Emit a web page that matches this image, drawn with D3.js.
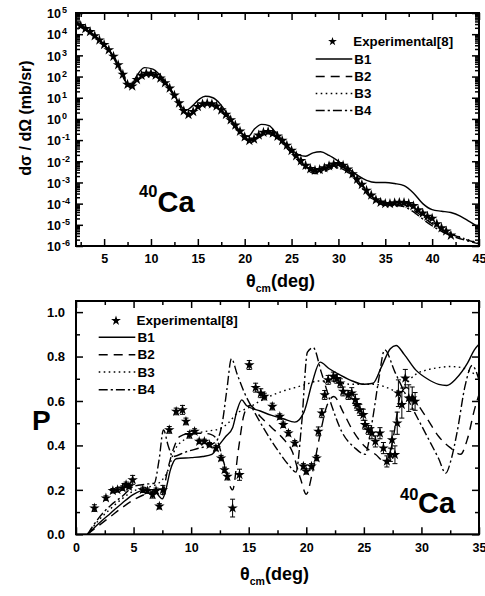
<!DOCTYPE html>
<html>
<head>
<meta charset="utf-8">
<script src="https://cdn.jsdelivr.net/npm/d3@7/dist/d3.min.js"></script>
<style>
html,body{margin:0;padding:0;background:#fff;}
svg{display:block;}
text{font-family:"Liberation Sans",Arial,Helvetica,sans-serif;font-weight:bold;fill:#000;}
</style>
</head>
<body>
<svg id="chart" width="485" height="596" xmlns="http://www.w3.org/2000/svg"></svg>
<script>
// ---------------- TOP PANEL DATA: dσ/dΩ (mb/sr) vs θcm (deg) ----------------
const thetaExpTop = [2.5,3.0,3.5,4.0,4.5,5.0,5.5,6.0,6.5,7.0,7.5,8.0,8.5,9.0,9.5,10.0,10.5,11.0,11.5,12.0,12.5,13.0,13.5,14.0,14.5,15.0,15.5,16.0,16.5,17.0,17.5,18.0,18.5,19.0,19.5,20.0,20.5,21.0,21.5,22.0,22.5,23.0,23.5,24.0,24.5,25.0,25.5,26.0,26.5,27.0,27.5,28.0,28.5,29.0,29.5,30.0,30.5,31.0,31.5,32.0,32.5,33.0,33.5,34.0,34.5,35.0,35.5,36.0,36.5,37.0,37.5,38.0,38.5,39.0,39.5,40.0,40.5,41.0,41.5,42.0];
const sigmaExpTop = [2.5e4,1.8e4,1.3e4,8.3e3,5.2e3,3.2e3,1.8e3,890,355,126,42,35,71,112,138,138,115,83,50,28,13,5.6,2.4,1.6,2.2,3.8,5.0,5.4,5.0,4.0,2.6,1.6,0.89,0.5,0.26,0.14,0.095,0.11,0.17,0.23,0.25,0.21,0.15,0.095,0.056,0.032,0.018,0.0105,0.0063,0.0044,0.0037,0.004,0.0048,0.006,0.0072,0.0076,0.0063,0.0042,0.0025,0.0014,7.9e-4,4.2e-4,2.5e-4,1.5e-4,1.15e-4,1.0e-4,1.0e-4,1.07e-4,1.12e-4,1.1e-4,1.0e-4,7.9e-5,5.0e-5,3.5e-5,2.5e-5,2.0e-5,1.1e-5,7.1e-6,5.0e-6,3.2e-6];

const thetaB1Top = [2,3,4,5,6,6.5,7,7.5,7.9,8.4,9.3,10.2,11,11.7,12.5,13.2,13.8,14.4,15.2,15.8,16.6,17.4,18.2,19,19.8,20.4,21,21.8,22.6,23.4,24.3,25,25.8,26.5,27.3,28.1,29,30,31,32,33,34,35,36,37,38,39,40,41,42,43,44,45];
const sigmaB1Top = [3.9e4,1.9e4,8.5e3,3.3e3,890,355,126,42,40,95,263,224,112,45,13,4.0,2.6,4.0,8.9,11.7,10,5.0,1.6,0.5,0.19,0.15,0.32,0.55,0.48,0.2,0.071,0.035,0.02,0.0174,0.025,0.028,0.019,0.01,0.0048,0.0022,0.00126,0.001,0.001,8.9e-4,7.1e-4,3.2e-4,1.0e-4,5.2e-5,4.4e-5,3.8e-5,2.6e-5,1.4e-5,7.6e-6];

const thetaBTop = [2,3,4,5,6,7,7.7,8.5,9.5,10.5,11.5,12.5,13.5,14.1,15,16,17,18,19,20,20.7,21.5,22.5,23.5,24.5,25.5,26.5,27.5,28.5,29.5,30.5,31.5,32.5,33.5,34.5,35.5,36.5,37.5,38.5,39.5,40.5,41.5,42.5,43.5,45];
const sigmaB2Top = [3.5e4,1.8e4,8.3e3,3.2e3,830,112,33,71,132,120,52,12.6,2.2,1.5,3.5,5.2,4.0,1.5,0.45,0.13,0.089,0.16,0.24,0.14,0.05,0.0166,0.0056,0.0032,0.004,0.006,0.0052,0.0022,7.1e-4,2.2e-4,1.12e-4,8.9e-5,9.5e-5,7.1e-5,3.5e-5,1.6e-5,7.9e-6,4.5e-6,3.0e-6,2.1e-6,1.3e-6];
const sigmaB3Top = [3.6e4,1.8e4,8.5e3,3.3e3,890,126,35,79,141,126,56,13.2,2.4,1.66,3.8,5.6,4.2,1.58,0.48,0.141,0.1,0.166,0.25,0.15,0.056,0.019,0.0063,0.0038,0.0048,0.0071,0.006,0.0025,7.9e-4,2.5e-4,1.3e-4,1.12e-4,1.12e-4,8.3e-5,4.0e-5,1.8e-5,8.9e-6,5.0e-6,3.2e-6,2.2e-6,1.4e-6];
const sigmaB4Top = [3.5e4,1.7e4,7.9e3,3.0e3,760,100,30,63,120,112,48,11.2,2.0,1.41,3.2,4.8,3.5,1.32,0.38,0.112,0.079,0.132,0.2,0.12,0.042,0.0132,0.0045,0.0026,0.0033,0.005,0.0042,0.0018,5.6e-4,1.8e-4,9.5e-5,7.9e-5,7.9e-5,5.6e-5,2.8e-5,1.26e-5,6.6e-6,3.8e-6,2.6e-6,1.9e-6,1.26e-6];

const xDomainTop = [2, 45];
const yDomainTop = [1e-6, 1e5];
const xTicksTop = [5,10,15,20,25,30,35,40,45];
const xMinorTop = [2.5,7.5,12.5,17.5,22.5,27.5,32.5,37.5,42.5];
const yTickExpTop = [5,4,3,2,1,0,-1,-2,-3,-4,-5,-6];
const yTicksTop = [1e5,1e4,1e3,1e2,1e1,1e0,1e-1,1e-2,1e-3,1e-4,1e-5,1e-6];

// ---------------- BOTTOM PANEL DATA: analysing power P vs θcm (deg) ----------------
const thetaExpP = [1.6,2.6,3.2,3.6,4.05,4.35,4.6,4.92,5.8,6.2,6.65,6.95,7.24,7.55,8.1,8.7,9.25,9.55,9.85,10.3,10.7,11.15,11.6,12.15,12.6,12.9,13.15,13.6,14.2,15.05,15.6,16.05,16.35,17.05,17.7,18.0,18.45,19.0,19.75,20.0,20.45,20.9,21.05,21.35,21.6,21.9,22.35,22.65,22.95,23.2,23.65,23.95,24.25,24.4,24.65,24.95,25.1,25.4,25.7,26.0,26.4,26.7,27.0,27.3,27.45,27.7,27.9,28.0,28.3,28.6,28.9,29.2,29.45];
const PExp = [0.118,0.163,0.196,0.2,0.208,0.223,0.215,0.245,0.2,0.196,0.178,0.196,0.126,0.2,0.47,0.553,0.56,0.508,0.448,0.463,0.418,0.418,0.403,0.388,0.343,0.29,0.26,0.118,0.268,0.762,0.66,0.635,0.62,0.575,0.53,0.493,0.455,0.41,0.306,0.283,0.306,0.343,0.463,0.545,0.627,0.695,0.71,0.7,0.68,0.643,0.627,0.635,0.605,0.583,0.56,0.538,0.493,0.47,0.455,0.418,0.455,0.388,0.328,0.358,0.425,0.358,0.5,0.635,0.583,0.702,0.613,0.613,0.598];
const PErr = [0.015,0.01,0.01,0.01,0.01,0.012,0.01,0.02,0.012,0.012,0.015,0.012,0.012,0.02,
  0.015,0.015,0.02,0.015,0.015,0.012,0.01,0.01,0.01,0.012,0.012,0.012,0.015,0.04,0.025,
  0.02,0.02,0.02,0.015,0.015,0.012,0.012,0.012,0.012,0.012,0.012,
  0.012,0.012,0.02,0.02,0.02,0.02,0.02,0.02,0.02,0.02,
  0.02,0.025,0.025,0.025,0.025,0.025,0.02,0.02,0.025,0.025,
  0.025,0.025,0.025,0.03,0.04,0.04,0.05,0.06,0.06,0.04,
  0.06,0.05,0.04];

const thetaB1P = [1.0,2,3,4,5,6,6.7,7.5,7.8,8.2,8.7,10,11,11.8,12.4,13,13.6,14,14.4,14.8,16,17,18,19,19.8,20.5,21.2,22,23,24,25,25.8,26.5,27.3,27.8,28.5,29.5,30.5,31.5,32.2,33,34,34.6,35];
const PB1 = [0,0.05,0.095,0.14,0.18,0.2,0.2,0.16,0.2,0.29,0.34,0.345,0.35,0.36,0.4,0.44,0.48,0.56,0.605,0.58,0.555,0.535,0.52,0.505,0.55,0.68,0.775,0.745,0.715,0.69,0.675,0.68,0.75,0.835,0.85,0.81,0.74,0.7,0.675,0.67,0.7,0.77,0.83,0.855];
const thetaB2P = [1.0,2,3,4,5,6,6.8,7.4,8,8.5,9,10,11,11.7,12.2,12.8,13.6,14.1,14.6,15.1,16,17,18,18.8,19.5,20,20.5,21.2,21.8,22.4,23.2,24,25,26,27,27.6,28.2,28.7,29.5,30.5,31.5,32.5,33.4,34,34.6,35];
const PB2 = [0,0.04,0.08,0.12,0.155,0.18,0.19,0.17,0.3,0.39,0.44,0.455,0.455,0.45,0.43,0.33,0.2,0.38,0.54,0.58,0.53,0.48,0.43,0.37,0.25,0.18,0.27,0.45,0.58,0.62,0.55,0.47,0.40,0.36,0.32,0.45,0.63,0.66,0.6,0.52,0.44,0.39,0.36,0.43,0.56,0.63];
const thetaB3P = [1.0,2,3,4,5,6,7,7.5,8,8.5,9.5,10.5,11.5,12.5,13.2,14,15,16,17,18,19,20,21,22,23,24,25,26,27,27.8,28.5,29.5,30.5,31.5,32.5,33.5,34.5,35];
const PB3 = [0,0.065,0.115,0.16,0.195,0.21,0.225,0.245,0.29,0.37,0.43,0.455,0.465,0.475,0.5,0.545,0.57,0.6,0.625,0.645,0.66,0.675,0.69,0.69,0.68,0.675,0.675,0.675,0.66,0.645,0.67,0.72,0.74,0.75,0.755,0.75,0.725,0.715];
const thetaB4P = [1.0,2,3,4,5,6,6.8,7.2,7.6,8.0,8.4,9.5,10.5,11.5,12.2,12.7,13.1,13.5,14.0,14.6,15.5,16.5,17.5,18.5,19.1,19.6,20.1,20.6,21.3,22.2,23.1,24.2,25.1,25.7,26.3,26.8,27.7,28.9,30.3,31.5,32.1,32.6,33.1,33.8,34.4,35];
const PB4 = [0,0.075,0.13,0.17,0.215,0.225,0.23,0.33,0.47,0.40,0.35,0.37,0.385,0.40,0.42,0.5,0.65,0.79,0.72,0.64,0.55,0.46,0.38,0.31,0.28,0.5,0.82,0.84,0.73,0.58,0.46,0.39,0.36,0.5,0.7,0.83,0.73,0.6,0.46,0.34,0.275,0.34,0.46,0.67,0.76,0.695];

const xDomainP = [0, 35];
const yDomainP = [0, 1.05];
const xTicksP = [0,5,10,15,20,25,30,35];
const xMinorP = [2.5,7.5,12.5,17.5,22.5,27.5,32.5];
const yTicksP = [0.0,0.2,0.4,0.6,0.8,1.0];
const yMinorP = [0.1,0.3,0.5,0.7,0.9];

const legendLabels = ["Experimental[8]","B1","B2","B3","B4"];
const dashes = {B1:null, B2:"9,6", B3:"1.6,3.4", B4:"9,3,2.2,3"};

// ---------------- DRAWING ----------------
const FONT = '"Liberation Sans", Arial, Helvetica, sans-serif';
const svg = d3.select("#chart");
const defs = svg.append("defs");
function addClip(id,b){
  defs.append("clipPath").attr("id",id).append("rect")
    .attr("x",b.l).attr("y",b.t).attr("width",b.r-b.l).attr("height",b.b-b.t);
}
const boxT = {l:76, r:479, t:13, b:246};
const boxP = {l:76, r:479, t:301, b:534.3};
addClip("clipT",boxT); addClip("clipP",boxP);

const xT = d3.scaleLinear().domain(xDomainTop).range([boxT.l, boxT.r]);
const yT = d3.scaleLog().domain(yDomainTop).range([boxT.b, boxT.t]);
const xP = d3.scaleLinear().domain(xDomainP).range([boxP.l, boxP.r]);
const yP = d3.scaleLinear().domain(yDomainP).range([boxP.b, boxP.t]);

function styleAxis(g, fs){
  g.attr("font-family",FONT).attr("font-weight","bold").attr("font-size",fs);
  g.select(".domain").remove();
  g.selectAll("line").attr("stroke","#000").attr("stroke-width",1.5);
}
function drawAxes(box, x, y, xMaj, xMin, yMaj, yMin, xFmt, yFmt, xPad, yPad){
  const g = svg.append("g");
  const maj = 7, mnr = 4;
  g.append("g").attr("transform",`translate(0,${box.b})`)
    .call(d3.axisBottom(x).tickValues(xMaj).tickSize(-maj).tickPadding(xPad).tickFormat(xFmt))
    .call(a=>styleAxis(a,12.5));
  g.append("g").attr("transform",`translate(0,${box.b})`)
    .call(d3.axisBottom(x).tickValues(xMin).tickSize(-mnr).tickFormat(""))
    .call(a=>styleAxis(a,12.5));
  g.append("g").attr("transform",`translate(0,${box.t})`)
    .call(d3.axisTop(x).tickValues(xMaj).tickSize(-maj).tickFormat(""))
    .call(a=>styleAxis(a,12.5));
  g.append("g").attr("transform",`translate(0,${box.t})`)
    .call(d3.axisTop(x).tickValues(xMin).tickSize(-mnr).tickFormat(""))
    .call(a=>styleAxis(a,12.5));
  g.append("g").attr("transform",`translate(${box.l},0)`)
    .call(d3.axisLeft(y).tickValues(yMaj).tickSize(-maj).tickPadding(yPad).tickFormat(yFmt))
    .call(a=>styleAxis(a,13));
  g.append("g").attr("transform",`translate(${box.l},0)`)
    .call(d3.axisLeft(y).tickValues(yMin).tickSize(-mnr).tickFormat(""))
    .call(a=>styleAxis(a,13));
  g.append("g").attr("transform",`translate(${box.r},0)`)
    .call(d3.axisRight(y).tickValues(yMaj).tickSize(-maj).tickFormat(""))
    .call(a=>styleAxis(a,13));
  g.append("g").attr("transform",`translate(${box.r},0)`)
    .call(d3.axisRight(y).tickValues(yMin).tickSize(-mnr).tickFormat(""))
    .call(a=>styleAxis(a,13));
  g.append("rect").attr("x",box.l).attr("y",box.t)
    .attr("width",box.r-box.l).attr("height",box.b-box.t)
    .attr("fill","none").attr("stroke","#000").attr("stroke-width",2);
  return g;
}
function drawCurve(x, y, xs, ys, dash, clip){
  svg.append("path").datum(d3.zip(xs, ys))
    .attr("clip-path",`url(#${clip})`)
    .attr("fill","none").attr("stroke","#000").attr("stroke-width",1.4)
    .attr("stroke-dasharray",dash)
    .attr("d", d3.line().x(d=>x(d[0])).y(d=>y(d[1])).curve(d3.curveMonotoneX));
}
const star = (s)=>d3.symbol().type(d3.symbolStar).size(s)();

// ===== TOP PANEL =====
const yMinorTopVals = yT.ticks(20).filter(v => !yTicksTop.some(t => Math.abs(t - v) / t < 1e-9));
drawAxes(boxT, xT, yT, xTicksTop, xMinorTop, yTicksTop, yMinorTopVals, d3.format("d"), ()=>"", 7.8, 0);

const gYL = svg.append("g");
yTickExpTop.forEach((e,i)=>{
  const ty = yT(yTicksTop[i]);
  gYL.append("text").attr("x",47).attr("y",ty+5.3).attr("font-size",12.5).text("10");
  gYL.append("text").attr("x",62).attr("y",ty+0.3).attr("font-size",9).text(String(e));
});

drawCurve(xT, yT, thetaB1Top, sigmaB1Top, dashes.B1, "clipT");
drawCurve(xT, yT, thetaBTop, sigmaB2Top, dashes.B2, "clipT");
drawCurve(xT, yT, thetaBTop, sigmaB3Top, dashes.B3, "clipT");
drawCurve(xT, yT, thetaBTop, sigmaB4Top, dashes.B4, "clipT");

svg.append("g").attr("clip-path","url(#clipT)").selectAll("path")
  .data(d3.zip(thetaExpTop, sigmaExpTop)).join("path")
  .attr("d", star(36))
  .attr("transform", d=>`translate(${xT(d[0])},${yT(d[1])})`)
  .attr("fill","#000");

svg.append("text").attr("transform","translate(31,118) rotate(-90)")
  .attr("text-anchor","middle").attr("font-size",16).text("dσ / dΩ (mb/sr)");
const xtT = svg.append("text").attr("x",246).attr("y",287).attr("font-size",18);
xtT.append("tspan").text("θ");
xtT.append("tspan").attr("font-size",10.5).attr("dy",5).text("cm");
xtT.append("tspan").attr("dy",-5).text("(deg)");
svg.append("text").attr("x",139).attr("y",197).attr("font-size",16.5).text("40");
svg.append("text").attr("x",157.5).attr("y",212).attr("font-size",29).text("Ca");

function legend(sx, sy, lx0, lx1, tx, ys, fs, starSize){
  svg.append("path").attr("d",star(starSize)).attr("transform",`translate(${sx},${sy})`).attr("fill","#000");
  svg.append("text").attr("x",tx).attr("y",sy+4.7).attr("font-size",fs).text(legendLabels[0]);
  ["B1","B2","B3","B4"].forEach((k,i)=>{
    svg.append("line").attr("x1",lx0).attr("x2",lx1).attr("y1",ys[i]).attr("y2",ys[i])
      .attr("stroke","#000").attr("stroke-width",1.4).attr("stroke-dasharray",dashes[k]);
    svg.append("text").attr("x",tx+1).attr("y",ys[i]+4.7).attr("font-size",fs).text(legendLabels[i+1]);
  });
}
legend(332.5, 41.5, 315.7, 352.3, 353.3, [59,76.5,93.5,110.5], 13.3, 24);

// ===== BOTTOM PANEL =====
drawAxes(boxP, xP, yP, xTicksP, xMinorP, yTicksP, yMinorP, d3.format("d"), d3.format(".1f"), 9.2, 11);

drawCurve(xP, yP, thetaB1P, PB1, dashes.B1, "clipP");
drawCurve(xP, yP, thetaB2P, PB2, dashes.B2, "clipP");
drawCurve(xP, yP, thetaB3P, PB3, dashes.B3, "clipP");
drawCurve(xP, yP, thetaB4P, PB4, dashes.B4, "clipP");

const gErr = svg.append("g").attr("stroke","#000").attr("stroke-width",1);
d3.range(thetaExpP.length).forEach(i=>{
  const cx = xP(thetaExpP[i]), y0 = yP(PExp[i]-PErr[i]), y1 = yP(PExp[i]+PErr[i]);
  gErr.append("line").attr("x1",cx).attr("x2",cx).attr("y1",y0).attr("y2",y1);
  gErr.append("line").attr("x1",cx-2.5).attr("x2",cx+2.5).attr("y1",y0).attr("y2",y0);
  gErr.append("line").attr("x1",cx-2.5).attr("x2",cx+2.5).attr("y1",y1).attr("y2",y1);
});
svg.append("g").selectAll("path")
  .data(d3.zip(thetaExpP, PExp)).join("path")
  .attr("d", star(34))
  .attr("transform", d=>`translate(${xP(d[0])},${yP(d[1])})`)
  .attr("fill","#000");

svg.append("text").attr("x",32).attr("y",430).attr("font-size",28).text("P");
const xtP = svg.append("text").attr("x",240).attr("y",579.5).attr("font-size",18);
xtP.append("tspan").text("θ");
xtP.append("tspan").attr("font-size",10.5).attr("dy",5).text("cm");
xtP.append("tspan").attr("dy",-5).text("(deg)");
svg.append("text").attr("x",400).attr("y",500).attr("font-size",16.5).text("40");
svg.append("text").attr("x",418).attr("y",513).attr("font-size",29).text("Ca");

legend(116, 320.7, 98.7, 135.3, 136.5, [337.3,354.7,372,389.7], 13.5, 30);
</script>
</body>
</html>
